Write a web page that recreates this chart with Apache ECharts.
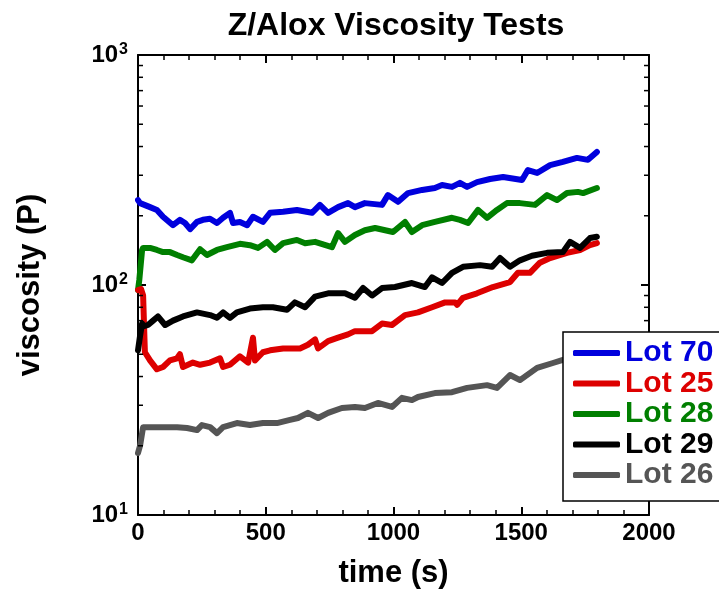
<!DOCTYPE html>
<html>
<head>
<meta charset="utf-8">
<script src="https://cdn.jsdelivr.net/npm/echarts@6/dist/echarts.min.js"></script>
<style>html,body{margin:0;padding:0;background:#fff}#c{width:719px;height:597px}</style>
</head>
<body>
<div id="c"></div>
<script>
const seriesNames = ['Lot 70', 'Lot 25', 'Lot 28', 'Lot 29', 'Lot 26'];
const seriesColors = ['#0000dd', '#dd0000', '#007f00', '#000000', '#555555'];
const lot70 = [[0,234],[8,227],[47,218],[74,212],[98,198],[137,182],[164,192],[184,186],[204,175],[231,188],[254,192],[282,194],[309,186],[333,196],[360,206],[372,186],[399,188],[427,182],[450,198],[489,188],[517,206],[568,208],[622,212],[681,206],[712,223],[744,206],[783,218],[822,227],[849,218],[888,227],[955,223],[978,246],[1018,230],[1057,251],[1112,259],[1162,264],[1190,272],[1229,267],[1260,278],[1288,267],[1327,280],[1378,289],[1429,295],[1503,286],[1526,316],[1562,307],[1613,332],[1663,343],[1718,357],[1761,350],[1796,379]];
const lot25 = [[0,95],[12,96],[20,90],[27,51],[47,47],[74,43],[98,44],[125,47],[153,48],[164,50],[176,44],[215,46],[243,45],[282,46],[321,48],[333,44],[360,45],[399,49],[431,46],[450,59],[458,47],[489,51],[517,52],[568,53],[634,53],[665,55],[693,58],[705,53],[744,57],[783,59],[822,61],[849,63],[916,63],[955,68],[994,67],[1045,74],[1096,76],[1151,80],[1202,84],[1241,84],[1249,82],[1272,88],[1327,92],[1389,98],[1456,103],[1487,113],[1534,113],[1573,125],[1613,131],[1679,138],[1730,142],[1769,149],[1796,152]];
const lot28 = [[0,95],[5,105],[16,142],[20,145],[47,145],[74,142],[98,139],[125,139],[153,135],[176,132],[211,128],[243,143],[270,135],[309,142],[348,146],[399,151],[438,149],[470,145],[505,154],[536,142],[568,152],[622,157],[654,152],[693,154],[759,146],[783,168],[810,154],[849,165],[888,173],[928,177],[998,170],[1045,188],[1072,170],[1112,182],[1162,188],[1229,196],[1260,192],[1292,186],[1331,212],[1366,196],[1405,212],[1444,227],[1495,227],[1554,223],[1601,246],[1640,234],[1679,251],[1722,254],[1742,251],[1796,264]];
const lot29 = [[0,52],[8,60],[16,68],[20,66],[39,67],[59,70],[78,73],[106,67],[137,70],[176,73],[231,76],[282,74],[309,72],[333,76],[360,72],[387,76],[438,79],[489,80],[528,80],[583,78],[614,84],[654,80],[693,89],[744,92],[810,92],[849,88],[881,97],[916,90],[955,97],[1006,98],[1072,102],[1123,98],[1151,108],[1190,102],[1229,113],[1272,120],[1339,122],[1386,120],[1417,131],[1456,120],[1495,128],[1542,134],[1601,138],[1663,139],[1691,154],[1730,145],[1769,160],[1796,162]];
const lot26 = [[0,18.6],[8,20],[20,24.1],[47,24.1],[98,24.1],[153,24.1],[192,23.9],[231,23.4],[250,24.6],[282,24.1],[309,22.7],[333,24.1],[387,25.1],[438,24.6],[489,25.1],[544,25.1],[595,25.9],[626,26.4],[665,27.8],[705,26.4],[744,27.8],[798,29.2],[849,29.5],[888,29.2],[939,30.7],[994,29.5],[1033,32.3],[1072,31.6],[1096,32.6],[1162,33.9],[1229,34.2],[1288,35.7],[1366,36.7],[1405,35.7],[1456,40.6],[1495,38.6],[1562,43.6],[1624,45.8],[1663,47.2],[1730,48.5],[1796,51]];
const seriesData = [lot70, lot25, lot28, lot29, lot26];
const drawOrder = [4, 2, 0, 1, 3];
// log-axis minor tick values (2..9 per decade)
const yMinorTicks = [20,30,40,50,60,70,80,90,200,300,400,500,600,700,800,900];

const FONT = 'Liberation Sans, Arial, sans-serif';
const chart = echarts.init(document.getElementById('c'), null, {renderer: 'canvas'});

function axisCommon(extra) {
  return Object.assign({
    axisLine: {show: true, onZero: false, lineStyle: {color: '#000', width: 2}},
    axisTick: {show: true, inside: true, length: 8, lineStyle: {color: '#000', width: 2}},
    splitLine: {show: false},
    minorSplitLine: {show: false}
  }, extra);
}

const option = {
  backgroundColor: '#fff',
  animation: false,
  title: {
    text: 'Z/Alox Viscosity Tests',
    left: 391, top: 5, textAlign: 'center',
    textStyle: {fontFamily: FONT, fontWeight: 'bold', fontSize: 32, color: '#000'}
  },
  grid: {left: 138, right: 70, top: 55, bottom: 82, containLabel: false},
  xAxis: [
    axisCommon({
      type: 'value', position: 'bottom', min: 0, max: 2000, interval: 500,
      minorTick: {show: true, splitNumber: 5, length: 5, lineStyle: {color: '#000', width: 1.5}},
      axisLabel: {color: '#000', fontFamily: FONT, fontWeight: 'bold', fontSize: 24, margin: 6,
        formatter: function (v) { return String(v); }},
      name: 'time (s)', nameLocation: 'middle', nameGap: 43,
      nameTextStyle: {color: '#000', fontFamily: FONT, fontWeight: 'bold', fontSize: 31}
    }),
    axisCommon({
      type: 'value', position: 'top', min: 0, max: 2000, interval: 500,
      minorTick: {show: true, splitNumber: 5, length: 5, lineStyle: {color: '#000', width: 1.5}},
      axisLabel: {show: false}
    })
  ],
  yAxis: [
    axisCommon({
      type: 'log', logBase: 10, position: 'left', min: 10, max: 1000,
      minorTick: {show: false},
      axisLabel: {
        margin: 10,
        formatter: function (v) { return '{b|10}{s|' + Math.round(Math.log10(v)) + '}'; },
        rich: {
          b: {fontFamily: FONT, fontWeight: 'bold', fontSize: 24, color: '#000', lineHeight: 26},
          s: {fontFamily: FONT, fontWeight: 'bold', fontSize: 16, color: '#000', lineHeight: 16, verticalAlign: 'top', padding: [0, 0, 0, 1]}
        }
      },
      name: 'viscosity (P)', nameLocation: 'middle', nameGap: 92, nameRotate: 90,
      nameTextStyle: {color: '#000', fontFamily: FONT, fontWeight: 'bold', fontSize: 31}
    }),
    axisCommon({
      type: 'log', logBase: 10, position: 'right', min: 10, max: 1000,
      minorTick: {show: false},
      axisLabel: {show: false}
    })
  ],
  legend: {
    orient: 'vertical', left: 563, top: 332,
    backgroundColor: '#fff', borderColor: '#000', borderWidth: 1.5,
    padding: [6, 10, 11, 10], itemGap: 0.5,
    itemWidth: 47, itemHeight: 6, icon: 'roundRect',
    textStyle: {fontFamily: FONT, fontWeight: 'bold', fontSize: 30},
    data: seriesNames.map((n, i) => ({name: n, textStyle: {color: seriesColors[i]}})),
    z: 20
  },
  series: drawOrder.map(i => ({
    name: seriesNames[i], type: 'line', xAxisIndex: 0, yAxisIndex: 0,
    data: seriesData[i], showSymbol: false, symbol: 'none',
    color: seriesColors[i],
    lineStyle: {color: seriesColors[i], width: 6, cap: 'round', join: 'round'}
  })).concat([{
    type: 'custom', name: 'yMinorTicks', xAxisIndex: 0, yAxisIndex: 0,
    silent: true, clip: false, z: 5,
    data: yMinorTicks.map(v => [0, v]),
    renderItem: function (params, api) {
      const cs = params.coordSys;
      const p = api.coord([0, api.value(1)]);
      const len = 5;
      return {
        type: 'group',
        children: [
          {type: 'line', shape: {x1: cs.x, y1: p[1], x2: cs.x + len, y2: p[1]},
           style: {stroke: '#000', lineWidth: 1.5}},
          {type: 'line', shape: {x1: cs.x + cs.width, y1: p[1], x2: cs.x + cs.width - len, y2: p[1]},
           style: {stroke: '#000', lineWidth: 1.5}}
        ]
      };
    }
  }])
};
chart.setOption(option);
</script>
</body>
</html>
